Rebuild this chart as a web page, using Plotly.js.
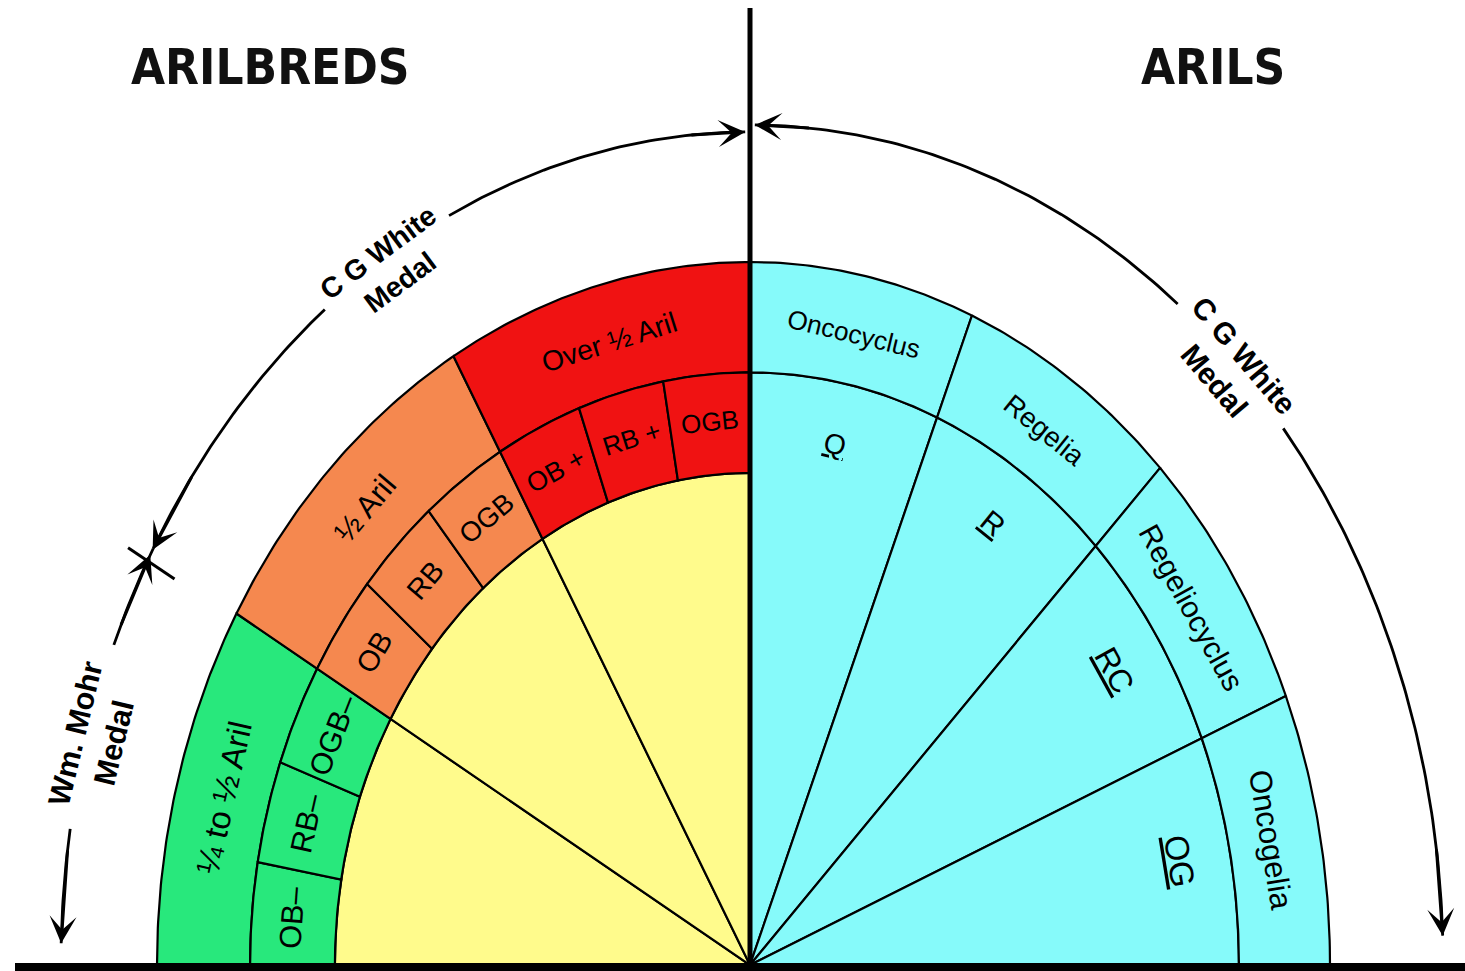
<!DOCTYPE html>
<html>
<head>
<meta charset="utf-8">
<script src="https://cdn.plot.ly/plotly-3.0.1.min.js"></script>
<style>
html, body { margin: 0; padding: 0; background: #ffffff; }
#chart { width: 1465px; height: 971px; }
</style>
</head>
<body>
<div id="chart"></div>
<script>
// ------------------------------------------------------------------
// DATA
// ------------------------------------------------------------------
const sideTitles = ['ARILBREDS', 'ARILS'];

// Arilbreds (left quarter): three aril-content groups, each one share
const arilbredGroups = ['¼ to ½ Aril', '½ Aril', 'Over ½ Aril'];
const arilbredGroupShare = [1, 1, 1];

// Arilbred classes (middle ring), three per group
const arilbredClasses = ['OB–', 'RB–', 'OGB–', 'OB', 'RB', 'OGB', 'OB +', 'RB +', 'OGB'];
const arilbredClassShare = [1, 1, 1, 1, 1, 1, 1, 1, 1];

// Arils (right quarter): four sections with their classes
const arilGroups = ['Oncocyclus', 'Regelia', 'Regeliocyclus', 'Oncogelia'];
const arilClasses = ['Q', 'R', 'RC', 'OG'];
const arilShare = [1, 1, 1, 1];

// Medals awarded around the outside (how many groups each one covers)
const arilbredMedals = ['Wm. Mohr<br>Medal', 'C G White<br>Medal'];
const arilbredMedalGroups = [1, 2];
const arilMedals = ['C G White<br>Medal'];
const arilMedalGroups = [4];

// ------------------------------------------------------------------
// STYLE / GEOMETRY
// ------------------------------------------------------------------
const W = 1465, H = 971;
const CX = 750, CY = 965;
const SX_L = 593, SX_R = 580, SY = 703;
const R_IN = 0.70, R_MID = 0.843, R_OUT = 1.0;
const ARC_L = { rx: 1.162, ry: 1.185 };
const ARC_R = { rx: 1.195, ry: 1.195 };
const LEFT_MEDAL_SHIFT = [1, -2];      // label placement nudges (deg)
const RIGHT_MEDAL_SHIFT = [-0.8];
const GAP = 6.1;                        // half-gap in arc around medal text (deg)

const groupColors = ['#28e87c', '#f5884f', '#f01212'];
const yellow = '#fffb8c';
const cyan = '#86fafa';

const FONT = '"Liberation Sans", Arial, sans-serif';
const FONT_TITLE = '"Liberation Sans Narrow", "Arial Narrow", "DejaVu Sans Condensed", Lato, sans-serif';

const D2R = Math.PI / 180;

function splits(shares, a0, a1) {
  const total = shares.reduce((s, v) => s + v, 0);
  const out = [];
  let acc = 0;
  shares.forEach(v => {
    const s = a0 + (a1 - a0) * acc / total;
    acc += v;
    const e = a0 + (a1 - a0) * acc / total;
    out.push([s, e]);
  });
  return out;
}

function sectorTrace(a0, a1, r0, r1, color, axis) {
  const xs = [], ys = [];
  const n = Math.max(8, Math.ceil(Math.abs(a1 - a0) / 0.5));
  for (let i = 0; i <= n; i++) {
    const a = (a0 + (a1 - a0) * i / n) * D2R;
    xs.push(r1 * Math.sin(a)); ys.push(r1 * Math.cos(a));
  }
  if (r0 > 0) {
    for (let i = n; i >= 0; i--) {
      const a = (a0 + (a1 - a0) * i / n) * D2R;
      xs.push(r0 * Math.sin(a)); ys.push(r0 * Math.cos(a));
    }
  } else {
    xs.push(0); ys.push(0);
  }
  xs.push(xs[0]); ys.push(ys[0]);
  return {
    type: 'scatter', mode: 'lines', x: xs, y: ys, xaxis: axis, yaxis: 'y',
    fill: 'toself', fillcolor: color, line: { color: '#000', width: 2.2 },
    hoverinfo: 'skip', showlegend: false
  };
}

function arcTrace(a0, a1, arc, axis) {
  const xs = [], ys = [];
  const n = Math.max(4, Math.ceil(Math.abs(a1 - a0) / 0.5));
  for (let i = 0; i <= n; i++) {
    const a = (a0 + (a1 - a0) * i / n) * D2R;
    xs.push(arc.rx * Math.sin(a)); ys.push(arc.ry * Math.cos(a));
  }
  return {
    type: 'scatter', mode: 'lines', x: xs, y: ys, xaxis: axis, yaxis: 'y',
    line: { color: '#000', width: 2.8 }, hoverinfo: 'skip', showlegend: false
  };
}

function tangentAngle(theta, sx) {
  const t = theta * D2R;
  return Math.atan2(SY * Math.sin(t), sx * Math.cos(t)) / D2R;
}
function stretch(theta, sx) {
  const t = theta * D2R, k = SY / sx;
  return Math.sqrt(Math.cos(t) ** 2 + (k * Math.sin(t)) ** 2);
}

function label(text, theta, r, side, size, extra) {
  const sx = side === 'L' ? SX_L : SX_R;
  const t = theta * D2R;
  const ann = {
    xref: side === 'L' ? 'x' : 'x2', yref: 'y',
    x: r * Math.sin(t), y: r * Math.cos(t),
    text: text, showarrow: false,
    textangle: tangentAngle(theta, sx),
    xanchor: 'center', yanchor: 'middle',
    font: { family: FONT, size: size * stretch(theta, sx), color: '#000' }
  };
  if (extra) Object.assign(ann.font, extra);
  return ann;
}

function medalLabel(text, theta, arc, side, size) {
  const sx = side === 'L' ? SX_L : SX_R;
  const t = theta * D2R;
  return {
    xref: side === 'L' ? 'x' : 'x2', yref: 'y',
    x: arc.rx * Math.sin(t), y: arc.ry * Math.cos(t),
    text: text, showarrow: false,
    textangle: tangentAngle(theta, sx),
    xanchor: 'center', yanchor: 'middle',
    font: { family: FONT, size: size * stretch(theta, sx), color: '#000', weight: 'bold' }
  };
}

function arrow(thetaTip, thetaTail, arc, side) {
  const ax = side === 'L' ? 'x' : 'x2';
  return {
    xref: ax, yref: 'y', axref: ax, ayref: 'y',
    x: arc.rx * Math.sin(thetaTip * D2R), y: arc.ry * Math.cos(thetaTip * D2R),
    ax: arc.rx * Math.sin(thetaTail * D2R), ay: arc.ry * Math.cos(thetaTail * D2R),
    text: '', showarrow: true, arrowhead: 3, arrowsize: 1.5, arrowwidth: 3,
    arrowcolor: '#000', standoff: 0, startstandoff: 0
  };
}

// ------------------------------------------------------------------
// BUILD
// ------------------------------------------------------------------
const traces = [];
const annotations = [];

// Left quarter
const lgSpans = splits(arilbredGroupShare, -90, 0);
lgSpans.forEach((s, i) => {
  traces.push(sectorTrace(s[0], s[1], R_MID, R_OUT, groupColors[i], 'x'));
  traces.push(sectorTrace(s[0], s[1], 0, R_IN, yellow, 'x'));
});
const lcSpans = splits(arilbredClassShare, -90, 0);
const perGroup = arilbredClasses.length / arilbredGroups.length;
lcSpans.forEach((s, i) => {
  traces.push(sectorTrace(s[0], s[1], R_IN, R_MID, groupColors[Math.floor(i / perGroup)], 'x'));
});

// Right quarter
const rSpans = splits(arilShare, 0, 90);
rSpans.forEach(s => {
  traces.push(sectorTrace(s[0], s[1], 0, R_MID, cyan, 'x2'));
  traces.push(sectorTrace(s[0], s[1], R_MID, R_OUT, cyan, 'x2'));
});

// Labels
arilbredGroups.forEach((g, i) => {
  const m = (lgSpans[i][0] + lgSpans[i][1]) / 2;
  annotations.push(label(g, m, 0.918, 'L', 28));
});
arilbredClasses.forEach((c, i) => {
  const m = (lcSpans[i][0] + lcSpans[i][1]) / 2;
  annotations.push(label(c, m, 0.775, 'L', 26));
});
arilGroups.forEach((g, i) => {
  const m = (rSpans[i][0] + rSpans[i][1]) / 2;
  annotations.push(label(g, m, 0.915, 'R', 26));
});
arilClasses.forEach((c, i) => {
  const m = (rSpans[i][0] + rSpans[i][1]) / 2;
  annotations.push(label(c, m, 0.755, 'R', 28, { lineposition: 'under' }));
});

// Medal arcs (left)
const lmSpans = splits(arilbredMedalGroups, -90, 0);
const lmMid = lmSpans.map((s, i) => (s[0] + s[1]) / 2 + LEFT_MEDAL_SHIFT[i]);
// Wm. Mohr section: -90 .. -60
traces.push(arcTrace(-88.5, lmMid[0] - GAP - 0.5, ARC_L, 'x'));
traces.push(arcTrace(lmMid[0] + GAP + 0.5, lmSpans[0][1], ARC_L, 'x'));
// C G White section: -60 .. 0
traces.push(arcTrace(lmSpans[1][0], lmMid[1] - GAP, ARC_L, 'x'));
traces.push(arcTrace(lmMid[1] + GAP, -0.4, ARC_L, 'x'));
// X mark at boundary
(function () {
  const b = (lmSpans[0][1] - 0.5) * D2R;
  traces.push({
    type: 'scatter', mode: 'lines', xaxis: 'x', yaxis: 'y',
    x: [1.115 * Math.sin(b), 1.205 * Math.sin(b)],
    y: [1.115 * Math.cos(b), 1.205 * Math.cos(b)],
    line: { color: '#000', width: 3 }, hoverinfo: 'skip', showlegend: false
  });
})();
annotations.push(arrow(-88.5, -82, ARC_L, 'L'));
annotations.push(arrow(lmSpans[0][1] - 0.5, lmSpans[0][1] - 6, ARC_L, 'L'));
annotations.push(arrow(lmSpans[0][1] - 0.1, lmSpans[0][1] + 6, ARC_L, 'L'));
annotations.push(arrow(-0.4, -5, ARC_L, 'L'));
annotations.push(medalLabel(arilbredMedals[0], lmMid[0], { rx: 1.15, ry: 1.17 }, 'L', 26));
annotations.push(medalLabel(arilbredMedals[1], lmMid[1], { rx: 1.15, ry: 1.17 }, 'L', 27));

// Medal arcs (right)
const rmSpans = splits(arilMedalGroups, 0, 90);
const rmMid = rmSpans.map((s, i) => (s[0] + s[1]) / 2 + RIGHT_MEDAL_SHIFT[i]);
traces.push(arcTrace(0.4, rmMid[0] - GAP, ARC_R, 'x2'));
traces.push(arcTrace(rmMid[0] + GAP, 88, ARC_R, 'x2'));
annotations.push(arrow(0.4, 5, ARC_R, 'R'));
annotations.push(arrow(88, 82, ARC_R, 'R'));
annotations.push(medalLabel(arilMedals[0], rmMid[0], { rx: 1.185, ry: 1.185 }, 'R', 27));

// Central vertical divider and base line
const topV = (CY - 8) / SY;
['x', 'x2'].forEach(ax => {
  traces.push({
    type: 'scatter', mode: 'lines', xaxis: ax, yaxis: 'y', x: [0, 0], y: [0, topV],
    line: { color: '#000', width: 5 }, hoverinfo: 'skip', showlegend: false
  });
});
const baseY = -2 / SY;
traces.push({
  type: 'scatter', mode: 'lines', xaxis: 'x', yaxis: 'y',
  x: [-(CX - 15) / SX_L, 0], y: [baseY, baseY],
  line: { color: '#000', width: 8 }, hoverinfo: 'skip', showlegend: false
});
traces.push({
  type: 'scatter', mode: 'lines', xaxis: 'x2', yaxis: 'y',
  x: [0, (W - CX) / SX_R], y: [baseY, baseY],
  line: { color: '#000', width: 8 }, hoverinfo: 'skip', showlegend: false
});

// Side titles
annotations.push({
  xref: 'paper', yref: 'paper', x: 270 / W, y: 1 - 67 / H, text: sideTitles[0],
  showarrow: false, xanchor: 'center', yanchor: 'middle',
  font: { family: FONT_TITLE, size: 49, color: '#111', weight: 'bold' }
});
annotations.push({
  xref: 'paper', yref: 'paper', x: 1213 / W, y: 1 - 67 / H, text: sideTitles[1],
  showarrow: false, xanchor: 'center', yanchor: 'middle',
  font: { family: FONT_TITLE, size: 49, color: '#111', weight: 'bold' }
});

const layout = {
  width: W, height: H,
  margin: { l: 0, r: 0, t: 0, b: 0, pad: 0 },
  paper_bgcolor: '#ffffff', plot_bgcolor: 'rgba(0,0,0,0)',
  showlegend: false,
  xaxis: { domain: [0, CX / W], range: [-CX / SX_L, 0], visible: false, fixedrange: true },
  xaxis2: { domain: [CX / W, 1], range: [0, (W - CX) / SX_R], visible: false, anchor: 'y', fixedrange: true },
  yaxis: { domain: [0, 1], range: [-(H - CY) / SY, CY / SY], visible: false, fixedrange: true },
  annotations: annotations
};

Plotly.newPlot('chart', traces, layout, { staticPlot: true, displayModeBar: false });
</script>
</body>
</html>
